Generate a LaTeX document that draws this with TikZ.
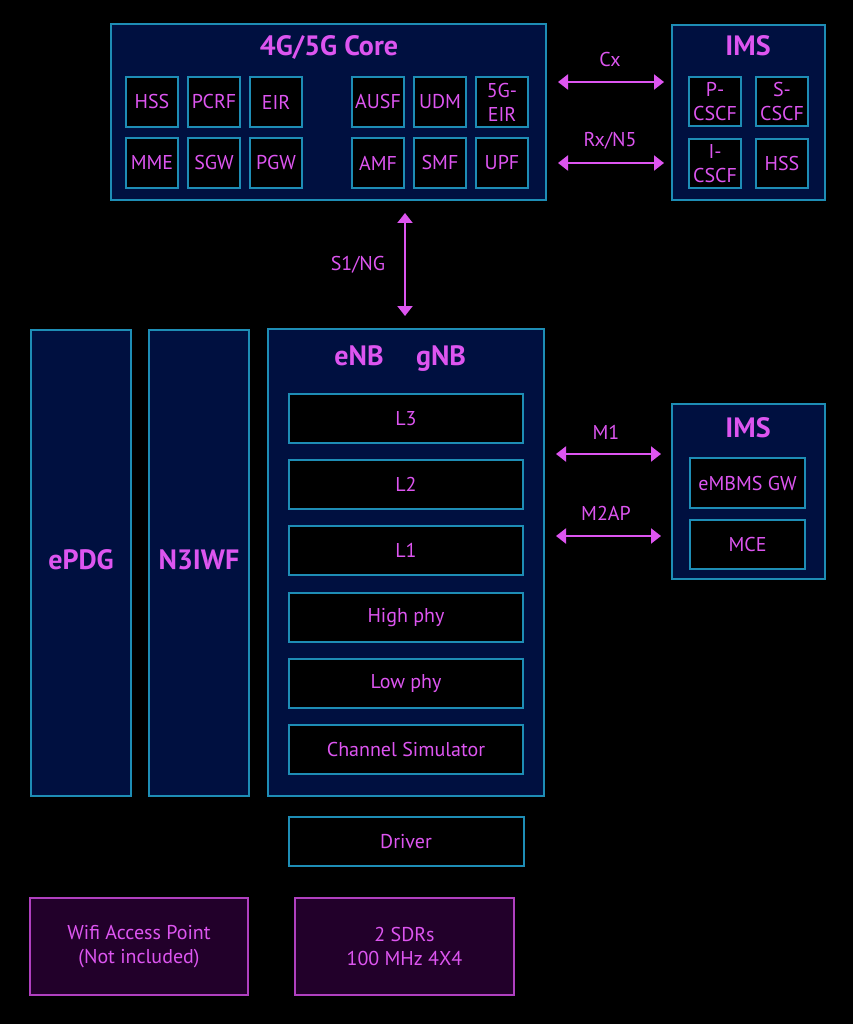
\documentclass[tikz,border=0pt]{standalone}
\usepackage{fontspec}
\setmainfont{PT Sans}
\usetikzlibrary{arrows.meta}
\definecolor{bg}{HTML}{000000}
\definecolor{navy}{HTML}{001040}
\definecolor{edge}{HTML}{1E8DB5}
\definecolor{mag}{HTML}{DD55F0}
\definecolor{pfill}{HTML}{22002A}
\definecolor{pedge}{HTML}{B040C0}
\begin{document}
\begin{tikzpicture}[x=1pt,y=-1pt,
  panel/.style={draw=edge,fill=navy,line width=1.5pt},
  cell/.style={draw=edge,fill=black,line width=1.5pt},
  pbox/.style={draw=pedge,fill=pfill,line width=1.5pt},
  lbl/.style={text=mag,font=\fontsize{20}{24}\selectfont,align=center,inner sep=0pt},
  ttl/.style={text=mag,font=\fontsize{28}{32}\selectfont\bfseries,align=center,inner sep=0pt,text height=20pt,text depth=6pt},
  link/.style={draw=mag,line width=2pt,{Triangle[length=10pt,width=15pt]}-{Triangle[length=10pt,width=15pt]}}]
\fill[bg] (0,0) rectangle (853,1024);
\useasboundingbox (0,0) rectangle (853,1024);
% core
\draw[panel] (111,24) rectangle (546,200);
\node[ttl] (coret) at (329,49) {4G/5G Core};
\foreach \n/\x/\y/\t in {hss/126/77/HSS,pcrf/188/77/PCRF,eir/250/77/EIR,ausf/352/77/AUSF,udm/414/77/UDM,geir/476/77/{5G-\\EIR},
  mme/126/138/MME,sgw/188/138/SGW,pgw/250/138/PGW,amf/352/138/AMF,smf/414/138/SMF,upf/476/138/UPF}{
  \draw[cell] (\x,\y) rectangle ++(52,50);
  \node[lbl] (\n) at (\x+26,\y+25) {\t};
}
% IMS top
\draw[panel] (672,25) rectangle (825,200);
\node[ttl] (imst) at (748,49) {IMS};
\foreach \n/\x/\y/\t in {pcscf/689/77/{P-\\CSCF},scscf/756/77/{S-\\CSCF},icscf/689/139/{I-\\CSCF},ihss/756/139/HSS}{
  \draw[cell] (\x,\y) rectangle ++(52,49);
  \node[lbl] (\n) at (\x+26,\y+24.5) {\t};
}
\coordinate (cxa) at (558,82); \coordinate (cxb) at (664,82);
\draw[link] (cxa) -- (cxb);
\node[lbl] (cx) at (610,60) {Cx};
\coordinate (rxa) at (558,163); \coordinate (rxb) at (664,163);
\draw[link] (rxa) -- (rxb);
\node[lbl] (rx) at (610,141) {Rx/N5};
% S1/NG
\coordinate (s1a) at (405,213); \coordinate (s1b) at (405,316);
\draw[link] (s1a) -- (s1b);
\node[lbl] (s1) at (358,265) {S1/NG};
% ePDG, N3IWF
\draw[panel] (31,330) rectangle (131,796);
\node[ttl] (epdg) at (81,562) {ePDG};
\draw[panel] (149,330) rectangle (249,796);
\node[ttl] (n3iwf) at (199,562) {N3IWF};
% gNB
\draw[panel] (268,329) rectangle (544,796);
\node[ttl] (enb) at (359,358) {eNB};
\node[ttl] (gnb) at (441,358) {gNB};
\foreach \n/\y/\t in {l3/394/L3,l2/460/L2,l1/526/L1,hphy/593/High phy,lphy/659/Low phy,chsim/725/Channel Simulator}{
  \draw[cell] (289,\y) rectangle (523,\y+49);
  \node[lbl] (\n) at (406,\y+24.5) {\t};
}
\draw[cell] (289,817) rectangle (524,866);
\node[lbl] (drv) at (406,841.5) {Driver};
% IMS bottom
\draw[panel] (672,404) rectangle (825,579);
\node[ttl] (imsb) at (748,430) {IMS};
\draw[cell] (690,458) rectangle (805,508);
\node[lbl] (embms) at (747.5,483) {eMBMS GW};
\draw[cell] (690,520) rectangle (805,569);
\node[lbl] (mce) at (747.5,544.5) {MCE};
\coordinate (m1a) at (556,454); \coordinate (m1b) at (661,454);
\draw[link] (m1a) -- (m1b);
\node[lbl] (m1) at (606,432) {M1};
\coordinate (m2a) at (556,536); \coordinate (m2b) at (661,536);
\draw[link] (m2a) -- (m2b);
\node[lbl] (m2) at (606,513) {M2AP};
% bottom
\draw[pbox] (30,898) rectangle (248,995);
\node[lbl] (wifi) at (139,946.5) {Wifi Access Point\\(Not included)};
\draw[pbox] (295,898) rectangle (514,995);
\node[lbl] (sdr) at (404.5,946.5) {2 SDRs\\100 MHz 4X4};
\end{tikzpicture}
\end{document}
